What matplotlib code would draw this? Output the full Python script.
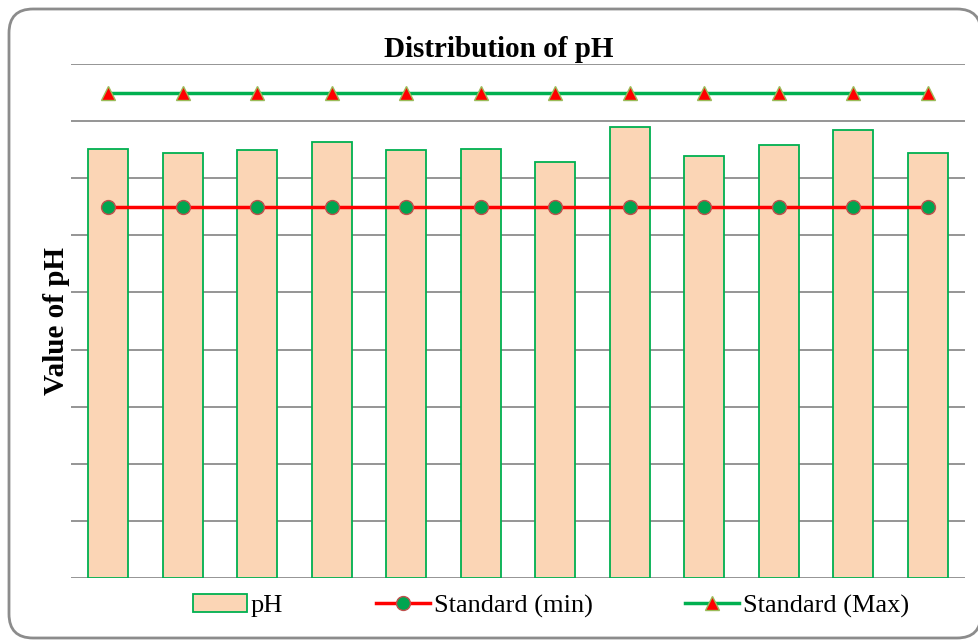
import matplotlib.pyplot as plt
import numpy as np
from matplotlib.patches import FancyBboxPatch

# Values
samples = ['S1', 'S2', 'S3', 'S4', 'S5', 'S6', 'S7', 'S8', 'S9', 'S10', 'S11', 'S12']
ph_values = [7.51, 7.44, 7.50, 7.64, 7.50, 7.51, 7.29, 7.90, 7.39, 7.58, 7.85, 7.44]
standard_min = [6.5] * 12
standard_max = [8.5] * 12

plt.rcParams['font.family'] = ['Liberation Serif', 'DejaVu Serif']

W, H = 979, 641
fig = plt.figure(figsize=(W / 100, H / 100), dpi=100)

# Rounded outer frame (drawn behind the axes), slightly cut on the right like the source
fl, ft, fr, fb = 9, 9, 981, 638
frame = FancyBboxPatch((fl / W, 1 - fb / H), (fr - fl) / W, (fb - ft) / H,
                       boxstyle='round,pad=0,rounding_size=%f' % (24 / W),
                       transform=fig.transFigure, facecolor='white', edgecolor='#8c8c8c',
                       linewidth=2, mutation_aspect=W / H, zorder=-1)
fig.add_artist(frame)

ax = fig.add_axes([71 / W, 1 - 578 / H, (965 - 71) / W, (578 - 64) / H])
x = np.arange(len(samples))

bars = ax.bar(x, ph_values, width=0.535, color='#FBD5B5', edgecolor='#00B050', linewidth=1.3,
              label='pH', zorder=2)
l_min, = ax.plot(x, standard_min, color='#FF0000', linewidth=2.5, marker='o', markersize=10,
                 markerfacecolor='#00A550', markeredgecolor='#C0504D', markeredgewidth=1,
                 label='Standard (min)', zorder=3)
l_max, = ax.plot(x, standard_max, color='#00B050', linewidth=2.5, marker='^', markersize=10.5,
                 markerfacecolor='#FF0000', markeredgecolor='#9BBB59', markeredgewidth=1,
                 label='Standard (Max)', zorder=3)

ax.set_xlim(-0.5, len(samples) - 0.5)
ax.set_ylim(0, 9)
ax.set_yticks(np.arange(0, 10, 1))
ax.yaxis.grid(True, color='#8c8c8c', linewidth=1.3, zorder=0)
ax.set_axisbelow(True)
ax.tick_params(left=False, bottom=False, labelleft=False, labelbottom=False)
for s in ax.spines.values():
    s.set_visible(False)
ax.patch.set_alpha(0)

ax.set_title('Distribution of pH', fontsize=21, fontweight='bold', pad=5, x=0.478)
ax.set_ylabel('Value of pH', fontsize=21, fontweight='bold', labelpad=1)

ax.legend(handles=[bars, l_min, l_max], loc='upper center', bbox_to_anchor=(0.537, 0.005),
          ncol=3, frameon=False, fontsize=19, columnspacing=3.5, handlelength=2.05,
          handletextpad=0.15, borderpad=0.2)

plt.savefig('out.png', dpi=100)
